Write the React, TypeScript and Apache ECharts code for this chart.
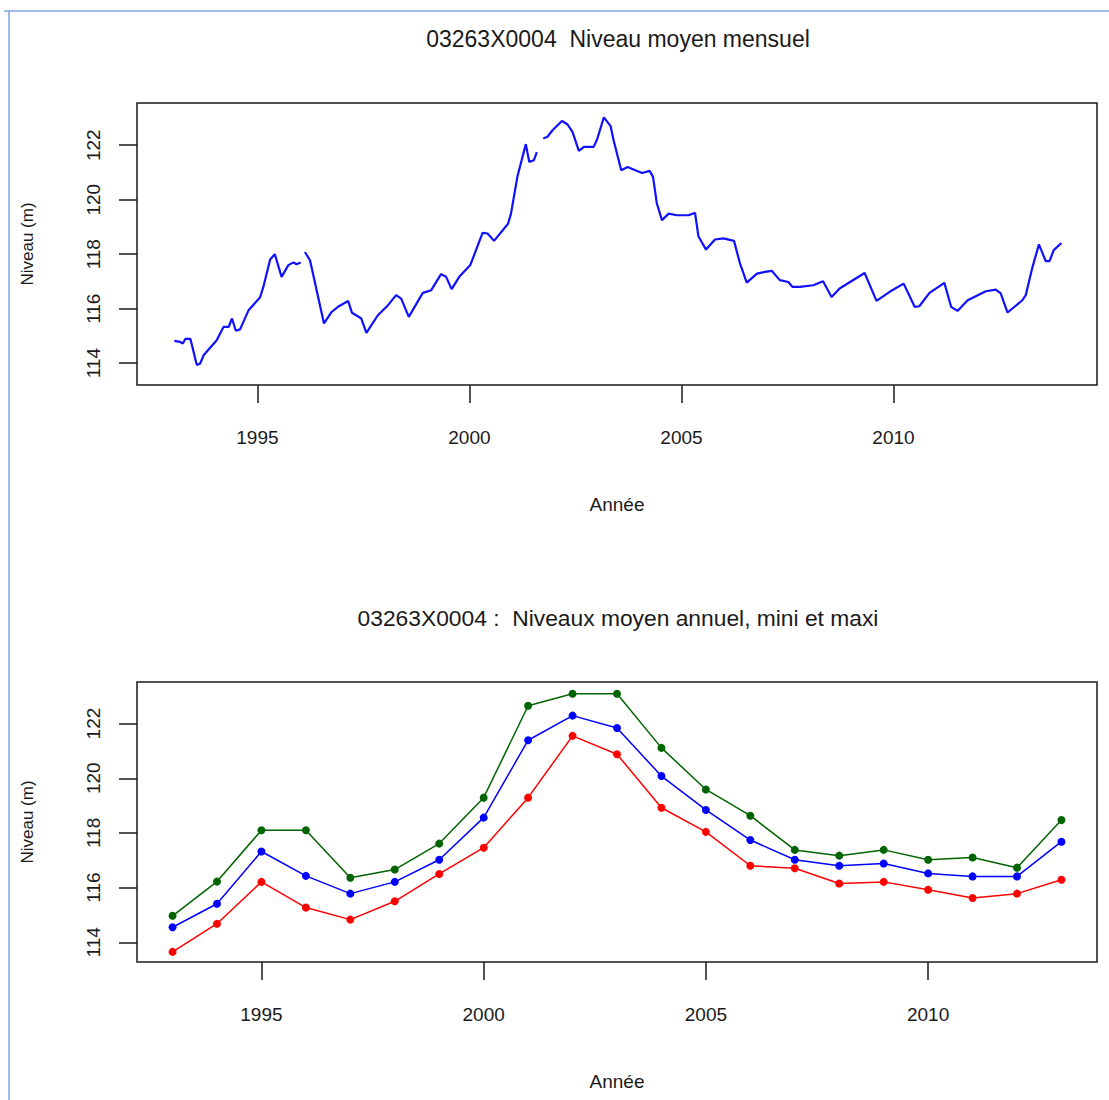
import React, { useEffect, useRef } from "react";
import * as echarts from "echarts";

// ---- Data ----
const titleTop = "03263X0004  Niveau moyen mensuel";
const titleBottom = "03263X0004 :  Niveaux moyen annuel, mini et maxi";
const xAxisName = "Année";
const yAxisName = "Niveau (m)";
const yearTicks = [1995, 2000, 2005, 2010];
const levelTicks = [114, 116, 118, 120, 122];

// Monthly level (three continuous pieces, gaps between)
const monthlyPart1: [number, number][] = [
  [1993.04, 114.82], [1993.18, 114.78], [1993.24, 114.72], [1993.3, 114.89], [1993.42, 114.89],
  [1993.57, 113.93], [1993.65, 113.99], [1993.73, 114.29], [1994.04, 114.84], [1994.2, 115.33],
  [1994.32, 115.33], [1994.4, 115.64], [1994.49, 115.19], [1994.59, 115.24], [1994.79, 115.94],
  [1995.06, 116.41], [1995.14, 116.8], [1995.3, 117.81], [1995.41, 118.0], [1995.57, 117.17],
  [1995.73, 117.6], [1995.85, 117.7], [1995.92, 117.63], [1996.02, 117.7],
];
const monthlyPart2: [number, number][] = [
  [1996.12, 118.08], [1996.24, 117.78], [1996.57, 115.46], [1996.75, 115.88], [1996.9, 116.07],
  [1997.14, 116.28], [1997.23, 115.85], [1997.45, 115.64], [1997.57, 115.11], [1997.84, 115.76],
  [1998.08, 116.13], [1998.27, 116.5], [1998.39, 116.37], [1998.57, 115.7], [1998.9, 116.58],
  [1999.1, 116.68], [1999.33, 117.27], [1999.45, 117.17], [1999.58, 116.72], [1999.76, 117.17],
  [2000.02, 117.6], [2000.31, 118.78], [2000.43, 118.76], [2000.58, 118.49], [2000.91, 119.12],
  [2000.98, 119.49], [2001.13, 120.84], [2001.33, 122.04], [2001.41, 121.39], [2001.52, 121.45],
  [2001.59, 121.75],
];
const monthlyPart3: [number, number][] = [
  [2001.74, 122.25], [2001.84, 122.31], [2001.96, 122.55], [2002.18, 122.89], [2002.31, 122.77],
  [2002.43, 122.49], [2002.58, 121.79], [2002.7, 121.94], [2002.93, 121.94], [2003.01, 122.21],
  [2003.17, 123.02], [2003.33, 122.7], [2003.4, 122.18], [2003.58, 121.08], [2003.73, 121.2],
  [2003.87, 121.11], [2004.07, 120.98], [2004.25, 121.06], [2004.33, 120.84], [2004.42, 119.86],
  [2004.54, 119.25], [2004.7, 119.49], [2004.89, 119.43], [2005.17, 119.43], [2005.32, 119.52],
  [2005.4, 118.66], [2005.58, 118.17], [2005.79, 118.54], [2005.99, 118.58], [2006.24, 118.49],
  [2006.38, 117.66], [2006.54, 116.96], [2006.78, 117.29], [2006.97, 117.35], [2007.13, 117.39],
  [2007.32, 117.05], [2007.52, 116.98], [2007.62, 116.8], [2007.79, 116.8], [2008.11, 116.86],
  [2008.34, 117.01], [2008.54, 116.43], [2008.73, 116.74], [2009.32, 117.31], [2009.6, 116.29],
  [2009.91, 116.62], [2010.24, 116.92], [2010.5, 116.07], [2010.61, 116.09], [2010.85, 116.58],
  [2011.2, 116.95], [2011.36, 116.07], [2011.51, 115.92], [2011.75, 116.31], [2012.18, 116.64],
  [2012.41, 116.7], [2012.53, 116.56], [2012.69, 115.86], [2013.04, 116.31], [2013.12, 116.5],
  [2013.27, 117.48], [2013.43, 118.36], [2013.59, 117.75], [2013.68, 117.75], [2013.78, 118.15],
  [2013.96, 118.41],
];

// Annual levels
const years = [1993, 1994, 1995, 1996, 1997, 1998, 1999, 2000, 2001, 2002, 2003, 2004, 2005, 2006, 2007, 2008, 2009, 2010, 2011, 2012, 2013];
const annualMax = [114.97, 116.22, 118.1, 118.1, 116.36, 116.66, 117.61, 119.29, 122.65, 123.09, 123.09, 121.11, 119.59, 118.63, 117.38, 117.17, 117.38, 117.02, 117.1, 116.73, 118.47];
const annualMean = [114.55, 115.41, 117.32, 116.43, 115.78, 116.21, 117.02, 118.56, 121.39, 122.29, 121.84, 120.08, 118.84, 117.74, 117.02, 116.8, 116.88, 116.52, 116.41, 116.41, 117.68];
const annualMin = [113.65, 114.68, 116.21, 115.27, 114.83, 115.5, 116.5, 117.46, 119.29, 121.55, 120.88, 118.92, 118.04, 116.8, 116.71, 116.15, 116.21, 115.92, 115.62, 115.78, 116.29];

const FONT = "'Liberation Sans', Arial, sans-serif";
const INK = "#1a1a1a";

function xAxisFor(gridIndex: number, min: number, max: number) {
  return {
    type: "value",
    gridIndex,
    min,
    max,
    name: xAxisName,
    nameLocation: "middle",
    nameGap: 110,
    nameTextStyle: { fontFamily: FONT, fontSize: 19, color: INK },
    axisLine: { show: false, onZero: false },
    axisTick: { show: true, length: 18, lineStyle: { color: INK, width: 1.5 }, customValues: yearTicks },
    axisLabel: {
      show: true,
      margin: 43,
      fontFamily: FONT,
      fontSize: 19,
      color: INK,
      customValues: yearTicks,
      formatter: (v: number) => String(v),
    },
    splitLine: { show: false },
  };
}

function yAxisFor(gridIndex: number, min: number, max: number) {
  return {
    type: "value",
    gridIndex,
    min,
    max,
    name: yAxisName,
    nameLocation: "middle",
    nameGap: 101,
    nameTextStyle: { fontFamily: FONT, fontSize: 17, color: INK },
    axisLine: { show: false, onZero: false },
    axisTick: { show: true, length: 18, lineStyle: { color: INK, width: 1.5 }, customValues: levelTicks },
    axisLabel: {
      show: true,
      rotate: 90,
      margin: 34,
      fontFamily: FONT,
      fontSize: 19,
      color: INK,
      customValues: levelTicks,
      formatter: (v: number) => String(v),
    },
    splitLine: { show: false },
  };
}

export default function App() {
  const ref = useRef<HTMLDivElement>(null);

  useEffect(() => {
    if (!ref.current) return;
    const chart = echarts.init(ref.current, undefined, { renderer: "svg" });

    const annual = (vals: number[]) => years.map((y, i) => [y, vals[i]]);
    const annualSeries = (name: string, vals: number[], color: string) => ({
      name,
      type: "line",
      xAxisIndex: 1,
      yAxisIndex: 1,
      data: annual(vals),
      symbol: "circle",
      symbolSize: 8,
      itemStyle: { color },
      lineStyle: { color, width: 1.5 },
    });
    const monthlySeries = (data: [number, number][]) => ({
      type: "line",
      xAxisIndex: 0,
      yAxisIndex: 0,
      data,
      symbol: "none",
      lineStyle: { color: "#1010ff", width: 2.2 },
    });

    chart.setOption({
      animation: false,
      backgroundColor: "#ffffff",
      title: [
        {
          text: titleTop,
          left: 613,
          top: 22,
          textAlign: "center",
          textStyle: { fontFamily: FONT, fontSize: 23, fontWeight: "normal", color: INK },
        },
        {
          text: titleBottom,
          left: 613,
          top: 601,
          textAlign: "center",
          textStyle: { fontFamily: FONT, fontSize: 22.8, fontWeight: "normal", color: INK },
        },
      ],
      grid: [
        { left: 137, top: 103, width: 960, height: 282, show: true, borderColor: INK, borderWidth: 1.5, backgroundColor: "transparent" },
        { left: 137, top: 682, width: 960, height: 280, show: true, borderColor: INK, borderWidth: 1.5, backgroundColor: "transparent" },
      ],
      xAxis: [xAxisFor(0, 1992.16, 2014.8), xAxisFor(1, 1992.2, 2013.8)],
      yAxis: [yAxisFor(0, 113.2, 123.55), yAxisFor(1, 113.28, 123.52)],
      series: [
        monthlySeries(monthlyPart1),
        monthlySeries(monthlyPart2),
        monthlySeries(monthlyPart3),
        annualSeries("Maxi", annualMax, "#006400"),
        annualSeries("Mini", annualMin, "#ff0000"),
        annualSeries("Moyen", annualMean, "#0000ff"),
      ],
      graphic: [
        { type: "line", shape: { x1: 4, y1: 11, x2: 1109, y2: 11 }, style: { stroke: "#7ea6dc", lineWidth: 1.5 } },
        { type: "line", shape: { x1: 9, y1: 11, x2: 9, y2: 1100 }, style: { stroke: "#7ea6dc", lineWidth: 1.5 } },
      ],
    });

    return () => chart.dispose();
  }, []);

  return (
    <div
      ref={ref}
      style={{ position: "fixed", left: 0, top: 0, width: 1109, height: 1100, background: "#fff" }}
    />
  );
}
